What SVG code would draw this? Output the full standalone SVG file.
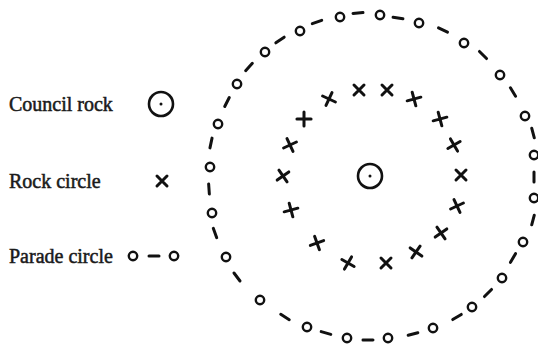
<svg xmlns="http://www.w3.org/2000/svg" xmlns:xlink="http://www.w3.org/1999/xlink" width="538" height="345" viewBox="0 0 538 345">
<defs>
<style>
.lbl{font-family:"Liberation Serif","Times New Roman",serif;font-size:20px;fill:#1a1a1a;stroke:#1a1a1a;stroke-width:0.5}
.ink{fill:none;stroke:#111;stroke-linecap:round}
</style>
<circle id="o" r="4.2" class="ink" stroke-width="2.4"/>
<line id="dash" x1="-5" y1="0" x2="5" y2="0" class="ink" stroke-width="3"/>
<path id="x" d="M-5,-5 L5,5 M5,-5 L-5,5" class="ink" stroke-width="3"/>
<g id="rock">
<circle r="12" class="ink" stroke-width="2.6"/>
<circle r="1.5" fill="#111"/>
</g>
</defs>
<rect width="538" height="345" fill="#fff"/>

<g id="legend-council-rock">
<text class="lbl" x="9" y="111">Council rock</text>
<use xlink:href="#rock" x="161" y="104"/>
</g>
<g id="legend-rock-circle">
<text class="lbl" x="9" y="188">Rock circle</text>
<use xlink:href="#x" x="162" y="181"/>
</g>
<g id="legend-parade-circle">
<text class="lbl" x="9" y="263">Parade circle</text>
<use xlink:href="#o" x="133" y="256"/>
<use xlink:href="#dash" x="154" y="256"/>
<use xlink:href="#o" x="174" y="256"/>
</g>

<g id="council-rock">
<use xlink:href="#rock" x="370" y="176"/>
</g>

<g id="rock-circle">
<use xlink:href="#x" transform="translate(359,90)"/>
<use xlink:href="#x" transform="translate(387,90)"/>
<use xlink:href="#x" transform="translate(414,99) rotate(30)"/>
<use xlink:href="#x" transform="translate(440,119) rotate(30)"/>
<use xlink:href="#x" transform="translate(454,145) rotate(15)"/>
<use xlink:href="#x" transform="translate(461,175)"/>
<use xlink:href="#x" transform="translate(457,206) rotate(20)"/>
<use xlink:href="#x" transform="translate(441,233) rotate(10)"/>
<use xlink:href="#x" transform="translate(416,252) rotate(-10)"/>
<use xlink:href="#x" transform="translate(386,263)"/>
<use xlink:href="#x" transform="translate(348,263) rotate(-15)"/>
<use xlink:href="#x" transform="translate(317,243) rotate(25)"/>
<use xlink:href="#x" transform="translate(291,210) rotate(30)"/>
<use xlink:href="#x" transform="translate(283,176) rotate(10)"/>
<use xlink:href="#x" transform="translate(290,145) rotate(20)"/>
<use xlink:href="#x" transform="translate(304,119) rotate(45)"/>
<use xlink:href="#x" transform="translate(329,99) rotate(-20)"/>
</g>

<g id="parade-circle">
<use xlink:href="#o" x="210" y="167"/>
<use xlink:href="#o" x="218" y="124"/>
<use xlink:href="#o" x="237" y="84"/>
<use xlink:href="#o" x="265" y="52"/>
<use xlink:href="#o" x="300" y="31"/>
<use xlink:href="#o" x="340" y="17"/>
<use xlink:href="#o" x="380" y="15"/>
<use xlink:href="#o" x="419" y="23"/>
<use xlink:href="#o" x="464" y="43"/>
<use xlink:href="#o" x="500" y="75"/>
<use xlink:href="#o" x="525" y="116"/>
<use xlink:href="#o" x="534" y="155"/>
<use xlink:href="#o" x="534" y="198"/>
<use xlink:href="#o" x="523" y="242"/>
<use xlink:href="#o" x="502" y="278"/>
<use xlink:href="#o" x="472" y="307"/>
<use xlink:href="#o" x="433" y="328"/>
<use xlink:href="#o" x="388" y="338"/>
<use xlink:href="#o" x="347" y="338"/>
<use xlink:href="#o" x="307" y="327"/>
<use xlink:href="#o" x="260" y="300"/>
<use xlink:href="#o" x="226" y="257"/>
<use xlink:href="#o" x="212" y="213"/>
<g id="parade-dashes">
<use xlink:href="#dash" transform="translate(211,143) rotate(-78)"/>
<use xlink:href="#dash" transform="translate(227,102) rotate(-63)"/>
<use xlink:href="#dash" transform="translate(249,67) rotate(-48)"/>
<use xlink:href="#dash" transform="translate(280,40) rotate(-34)"/>
<use xlink:href="#dash" transform="translate(317,22) rotate(-20)"/>
<use xlink:href="#dash" transform="translate(358,13) rotate(-5)"/>
<use xlink:href="#dash" transform="translate(398,18) rotate(9)"/>
<use xlink:href="#dash" transform="translate(443,30) rotate(26)"/>
<use xlink:href="#dash" transform="translate(483,55) rotate(45)"/>
<use xlink:href="#dash" transform="translate(513,92) rotate(59)"/>
<use xlink:href="#dash" transform="translate(533,133) rotate(75)"/>
<use xlink:href="#dash" transform="translate(534,177) rotate(90)"/>
<use xlink:href="#dash" transform="translate(533,220) rotate(105)"/>
<use xlink:href="#dash" transform="translate(513,258) rotate(120)"/>
<use xlink:href="#dash" transform="translate(488,293) rotate(135)"/>
<use xlink:href="#dash" transform="translate(457,317) rotate(149)"/>
<use xlink:href="#dash" transform="translate(413,334) rotate(165)"/>
<use xlink:href="#dash" transform="translate(368,340) rotate(181)"/>
<use xlink:href="#dash" transform="translate(326,333) rotate(196)"/>
<use xlink:href="#dash" transform="translate(285,317) rotate(212)"/>
<use xlink:href="#dash" transform="translate(237,277) rotate(233)"/>
<use xlink:href="#dash" transform="translate(215,233) rotate(250)"/>
<use xlink:href="#dash" transform="translate(209,189) rotate(266)"/>
</g>
</g>
</svg>
